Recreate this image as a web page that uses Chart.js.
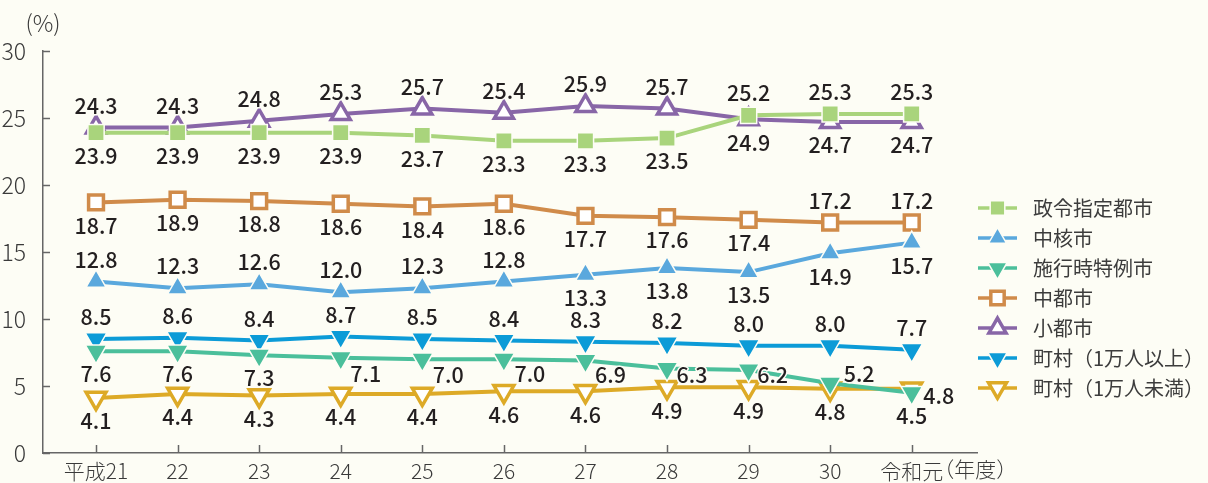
<!DOCTYPE html>
<html>
<head>
<meta charset="utf-8">
<script src="https://cdn.jsdelivr.net/npm/chart.js@4.4.1/dist/chart.umd.min.js"></script>
<style>
  html, body { margin: 0; padding: 0; background: #FDFDF5; }
  #wrap { width: 1208px; height: 483px; position: relative; }
</style>
</head>
<body>
<div id="wrap"><canvas id="c" width="1208" height="483"></canvas></div>
<script>
// 年度
const years = ['平成21', '22', '23', '24', '25', '26', '27', '28', '29', '30', '令和元'];
// 団体区分別の割合（%）
const seireiShitei   = [23.9, 23.9, 23.9, 23.9, 23.7, 23.3, 23.3, 23.5, 25.2, 25.3, 25.3];
const chukakushi     = [12.8, 12.3, 12.6, 12.0, 12.3, 12.8, 13.3, 13.8, 13.5, 14.9, 15.7];
const shikojiTokurei = [7.6, 7.6, 7.3, 7.1, 7.0, 7.0, 6.9, 6.3, 6.2, 5.2, 4.5];
const chutoshi       = [18.7, 18.9, 18.8, 18.6, 18.4, 18.6, 17.7, 17.6, 17.4, 17.2, 17.2];
const shotoshi       = [24.3, 24.3, 24.8, 25.3, 25.7, 25.4, 25.9, 25.7, 24.9, 24.7, 24.7];
const chosonOver     = [8.5, 8.6, 8.4, 8.7, 8.5, 8.4, 8.3, 8.2, 8.0, 8.0, 7.7];
const chosonUnder    = [4.1, 4.4, 4.3, 4.4, 4.4, 4.6, 4.6, 4.9, 4.9, 4.8, 4.8];
const seriesNames = ['政令指定都市', '中核市', '施行時特例市', '中都市', '小都市', '町村（1万人以上）', '町村（1万人未満）'];
const yTicks = [0, 5, 10, 15, 20, 25, 30];

// label placement: 'a' above, 'b' below, or [dx, dy] offset from the marker
const A = 'a', B = 'b';
const placeSeirei = [B, B, B, B, B, B, B, B, A, A, A];
const placeChukaku = [A, A, A, A, A, A, B, B, B, B, B];
const placeShikoji = [B, B, B, [25, 16], [26, 16], [26, 15], [25, 14], [25, 6], [24, 5], [29, -9], B];
const placeChutoshi = [B, B, B, B, B, B, B, B, B, A, A];
const placeShotoshi = [A, A, A, A, A, A, A, A, B, B, B];
const placeChosonOver = [A, A, A, A, A, A, A, A, A, A, A];
const placeChosonUnder = [B, B, B, B, B, B, B, B, B, B, [27, 7]];

const BG = '#FDFDF5';
const FONT = '"Noto Sans CJK JP", "Noto Sans", sans-serif';

function series(label, values, color, style, open, radius, place) {
  return {
    label,
    data: values.map((v, i) => ({ x: i, y: v })),
    borderColor: color,
    backgroundColor: color,
    borderWidth: 4,
    tension: 0,
    pointStyle: style.name,
    pointRotation: style.rot,
    pointRadius: radius,
    pointHoverRadius: radius,
    pointBackgroundColor: open ? '#FFFFFF' : color,
    pointBorderColor: open ? color : BG,
    pointBorderWidth: open ? 3.5 : 1.5,
    labelAt: place
  };
}
const SQ = { name: 'rect', rot: 0 }, UP = { name: 'triangle', rot: 0 }, DN = { name: 'triangle', rot: 180 };

const datasets = [
  series(seriesNames[0], seireiShitei, '#A9D47C', SQ, false, 11.5, placeSeirei),
  series(seriesNames[1], chukakushi, '#5AA8DD', UP, false, 11.5, placeChukaku),
  series(seriesNames[2], shikojiTokurei, '#4BBF9B', DN, false, 12.5, placeShikoji),
  series(seriesNames[3], chutoshi, '#D08B4A', SQ, true, 10.5, placeChutoshi),
  series(seriesNames[4], shotoshi, '#8866A7', UP, true, 11, placeShotoshi),
  series(seriesNames[5], chosonOver, '#0C9BD7', DN, false, 12.5, placeChosonOver),
  series(seriesNames[6], chosonUnder, '#DDAA27', DN, true, 11.5, placeChosonUnder)
];

// background colour of the canvas
const bgPlugin = {
  id: 'bg',
  beforeDraw(chart) {
    const c = chart.ctx;
    c.save();
    c.fillStyle = BG;
    c.fillRect(0, 0, chart.width, chart.height);
    c.restore();
  }
};

// short tick marks pointing into the plot area, plus the unit captions
const axisExtras = {
  id: 'axisExtras',
  afterDraw(chart) {
    const c = chart.ctx;
    const xs = chart.scales.x, ys = chart.scales.y;
    c.save();
    c.strokeStyle = '#666';
    c.lineWidth = 1.5;
    yTicks.forEach(v => {
      const y = Math.round(ys.getPixelForValue(v)) + 0.5;
      c.beginPath(); c.moveTo(xs.left, y); c.lineTo(xs.left + 7, y); c.stroke();
    });
    years.forEach((_, i) => {
      const x = Math.round(xs.getPixelForValue(i)) + 0.5;
      c.beginPath(); c.moveTo(x, ys.bottom); c.lineTo(x, ys.bottom - 8); c.stroke();
    });
    c.fillStyle = '#3a3a3a';
    c.font = '300 23px ' + FONT;
    c.textAlign = 'center';
    c.textBaseline = 'middle';
    c.fillText('(%)', ys.right, 23);
    // unit after the last year label
    c.font = '300 21px ' + FONT;
    const lastX = xs.getPixelForValue(years.length - 1);
    const w = c.measureText(years[years.length - 1]).width;
    c.textAlign = 'left';
    c.fillText('（年度）', lastX + w / 2 - 10, 469);
    c.restore();
  }
};

// value labels beside each marker
const valueLabels = {
  id: 'valueLabels',
  afterDatasetsDraw(chart) {
    const c = chart.ctx;
    c.save();
    c.font = '500 21.5px ' + FONT;
    c.textAlign = 'center';
    c.textBaseline = 'middle';
    c.lineJoin = 'round';
    chart.data.datasets.forEach((ds, i) => {
      const meta = chart.getDatasetMeta(i);
      meta.data.forEach((pt, j) => {
        const p = ds.labelAt[j];
        let dx = 0, dy;
        if (p === 'a') dy = -22;
        else if (p === 'b') dy = 23;
        else { dx = p[0]; dy = p[1]; }
        const txt = ds.data[j].y.toFixed(1);
        c.strokeStyle = BG;
        c.lineWidth = 3;
        c.strokeText(txt, pt.x + dx, pt.y + dy);
        c.fillStyle = '#231F20';
        c.fillText(txt, pt.x + dx, pt.y + dy);
      });
    });
    c.restore();
  }
};

// legend: line sample with marker, then the series name
const sideLegend = {
  id: 'sideLegend',
  afterDraw(chart) {
    const c = chart.ctx;
    const x0 = 978, x1 = 1017, xm = 997.5, xt = 1033, y0 = 208, gap = 30;
    c.save();
    chart.data.datasets.forEach((ds, i) => {
      const y = y0 + i * gap;
      c.strokeStyle = ds.borderColor;
      c.lineWidth = 3.5;
      c.beginPath(); c.moveTo(x0, y); c.lineTo(x1, y); c.stroke();
      c.fillStyle = ds.pointBackgroundColor;
      c.strokeStyle = ds.pointBorderColor;
      c.lineWidth = ds.pointBorderWidth;
      Chart.helpers.drawPoint(c, {
        pointStyle: ds.pointStyle,
        rotation: ds.pointRotation,
        radius: ds.pointRadius * 0.9,
        borderWidth: ds.pointBorderWidth
      }, xm, y);
      c.fillStyle = '#3c3c3c';
      c.font = '20px ' + FONT;
      c.textAlign = 'left';
      c.textBaseline = 'middle';
      c.fillText(ds.label, xt, y);
    });
    c.restore();
  }
};

new Chart(document.getElementById('c'), {
  type: 'line',
  data: { datasets },
  plugins: [bgPlugin, axisExtras, valueLabels, sideLegend],
  options: {
    responsive: false,
    devicePixelRatio: 1,
    animation: false,
    layout: { padding: { top: 51, right: 231, left: 0, bottom: 0 } },
    plugins: { legend: { display: false }, tooltip: { enabled: false } },
    scales: {
      x: {
        type: 'linear',
        min: -0.65,
        max: 10.8,
        afterBuildTicks(scale) { scale.ticks = years.map((_, i) => ({ value: i })); },
        afterFit(scale) { scale.height = 30; },
        grid: { display: false },
        border: { display: true, color: '#666', width: 1.5 },
        ticks: {
          autoSkip: false,
          maxRotation: 0,
          padding: 0,
          color: '#3a3a3a',
          font: { family: FONT, size: 21, weight: '300', lineHeight: 1 },
          callback: v => years[v]
        }
      },
      y: {
        min: 0,
        max: 30,
        afterBuildTicks(scale) { scale.ticks = yTicks.map(v => ({ value: v })); },
        afterFit(scale) { scale.width = 43; },
        grid: { display: false },
        border: { display: true, color: '#666', width: 1.5 },
        ticks: {
          padding: 9,
          color: '#3a3a3a',
          font: { family: FONT, size: 23, weight: '300' }
        }
      }
    }
  }
});
</script>
</body>
</html>
